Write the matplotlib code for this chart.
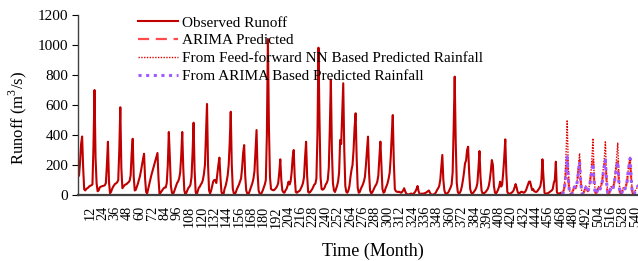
import numpy as np
import matplotlib
matplotlib.use("Agg")
import matplotlib.pyplot as plt

plt.rcParams['font.family'] = ['Liberation Serif', 'DejaVu Serif']
plt.rcParams['mathtext.fontset'] = 'custom'
plt.rcParams['mathtext.rm'] = 'Liberation Serif'

# Observed runoff (m3/s), months 1..468, one row per year
obs_years_01_10 = [
    [130, 220, 340, 390, 180, 38, 30, 40, 45, 50, 58, 62],
    [65, 70, 330, 700, 250, 80, 25, 30, 50, 55, 58, 60],
    [62, 65, 80, 200, 355, 90, 12, 20, 40, 55, 65, 75],
    [78, 85, 100, 300, 585, 180, 45, 55, 65, 70, 72, 80],
    [85, 95, 130, 280, 375, 120, 30, 35, 55, 75, 100, 125],
    [160, 200, 240, 275, 110, 20, 10, 40, 70, 100, 130, 155],
    [180, 205, 230, 255, 280, 110, 5, 15, 25, 35, 45, 50],
    [50, 80, 200, 420, 250, 60, 15, 5, 20, 40, 60, 80],
    [90, 110, 150, 260, 420, 180, 30, 5, 15, 32, 48, 55],
    [70, 120, 280, 482, 160, 20, 2, 25, 48, 55, 70, 80],
]
obs_years_11_20 = [
    [100, 140, 200, 400, 607, 200, 30, 10, 30, 60, 90, 100],
    [100, 80, 140, 200, 249, 120, 20, 5, 5, 40, 60, 90],
    [130, 200, 350, 555, 200, 40, 10, 5, 20, 40, 55, 70],
    [90, 110, 180, 280, 333, 130, 30, 10, 5, 20, 40, 60],
    [80, 110, 160, 300, 433, 150, 30, 10, 3, 15, 30, 50],
    [70, 100, 400, 1040, 450, 120, 40, 35, 32, 32, 40, 48],
    [60, 80, 150, 238, 100, 30, 18, 15, 30, 40, 60, 89],
    [70, 90, 150, 250, 300, 120, 20, 15, 20, 25, 30, 45],
    [60, 80, 120, 250, 355, 130, 20, 15, 20, 30, 40, 55],
    [70, 75, 110, 400, 982, 500, 120, 40, 35, 40, 50, 70],
]
obs_years_21_30 = [
    [80, 100, 180, 450, 770, 300, 80, 30, 20, 40, 60, 90],
    [150, 367, 340, 550, 745, 300, 60, 20, 15, 30, 60, 120],
    [167, 200, 300, 450, 545, 250, 50, 15, 20, 40, 55, 70],
    [90, 120, 200, 300, 389, 150, 30, 12, 15, 30, 45, 60],
    [70, 90, 130, 250, 356, 200, 40, 15, 20, 45, 60, 80],
    [110, 150, 250, 400, 533, 220, 40, 25, 22, 20, 22, 18],
    [15, 20, 30, 45, 25, 10, 5, 3, 5, 8, 10, 5],
    [8, 15, 25, 40, 60, 25, 8, 5, 10, 8, 10, 12],
    [15, 20, 25, 30, 15, 5, 2, 3, 5, 10, 20, 35],
    [45, 60, 100, 180, 267, 100, 30, 10, 8, 12, 20, 35],
]
obs_years_31_39 = [
    [50, 70, 150, 450, 789, 350, 80, 20, 10, 15, 30, 60],
    [100, 150, 211, 230, 300, 322, 150, 40, 15, 10, 15, 25],
    [35, 50, 80, 180, 293, 120, 30, 10, 8, 15, 20, 30],
    [40, 60, 100, 160, 233, 200, 60, 15, 10, 20, 35, 55],
    [89, 56, 70, 150, 250, 371, 150, 20, 10, 8, 10, 15],
    [20, 30, 50, 73, 50, 20, 10, 12, 20, 22, 18, 15],
    [20, 30, 50, 70, 89, 90, 60, 33, 40, 25, 22, 20],
    [25, 35, 45, 60, 100, 238, 120, 15, 8, 10, 12, 15],
    [20, 25, 30, 40, 80, 100, 222, 20, 8, 10, 12, 15],
]

# Predicted runoff, months 469..543
arima_pred = [10, 20, 40, 90, 170, 240, 110, 30, 10, 8, 20, 40,
              50, 45, 60, 100, 170, 230, 100, 25, 8, 15, 35, 50,
              40, 25, 50, 80, 140, 190, 230, 100, 20, 8, 25, 45,
              55, 40, 60, 95, 160, 200, 230, 100, 20, 8, 15, 40,
              50, 35, 60, 95, 150, 200, 225, 95, 18, 8, 15, 40,
              50, 40, 60, 90, 150, 200, 235, 105, 20, 8, 10, 30,
              45, 55, 65]
ffnn_rain_pred = [10, 20, 40, 120, 300, 500, 200, 40, 10, 5, 15, 30,
                  50, 40, 60, 120, 200, 278, 120, 30, 10, 20, 40, 60,
                  40, 25, 50, 80, 150, 250, 378, 150, 30, 10, 30, 50,
                  60, 45, 70, 100, 180, 250, 360, 150, 30, 10, 20, 50,
                  60, 40, 70, 110, 180, 260, 349, 140, 25, 8, 20, 45,
                  55, 40, 65, 100, 160, 200, 251, 120, 25, 5, 10, 30,
                  40, 55, 70]
arima_rain_pred = [5, 15, 30, 80, 160, 255, 120, 30, 5, 3, 15, 35,
                   55, 45, 60, 100, 160, 222, 100, 20, 5, 15, 35, 50,
                   35, 20, 45, 70, 120, 160, 211, 90, 20, 5, 25, 45,
                   55, 40, 60, 90, 150, 190, 233, 100, 20, 5, 15, 40,
                   50, 35, 60, 95, 150, 190, 222, 90, 15, 5, 15, 40,
                   50, 40, 60, 90, 150, 200, 244, 110, 20, 5, 10, 30,
                   45, 55, 65]

observed = [v for rows in (obs_years_01_10, obs_years_11_20, obs_years_21_30, obs_years_31_39)
            for row in rows for v in row]
obs_months = np.arange(1, len(observed) + 1)
pred_months = np.arange(len(observed) + 1, len(observed) + 1 + len(arima_pred))

xticks = list(range(12, 541, 12))
yticks = [0, 200, 400, 600, 800, 1000, 1200]

fig = plt.figure(figsize=(6.38, 2.61), dpi=100)
ax = fig.add_axes([78/638, 66/261, 1 - 78/638, 180/261])

ax.plot(obs_months, observed, color='#C00000', lw=1.5, label='Observed Runoff')
ax.plot(pred_months, arima_pred, color='#FF4B4B', lw=1.6, ls=(0, (5, 3)), label='ARIMA Predicted')
ax.plot(pred_months, ffnn_rain_pred, color='#E00000', lw=1.0, ls=(0, (1, 1)),
        label='From Feed-forward NN Based Predicted Rainfall')
ax.plot(pred_months, arima_rain_pred, color='#A259FF', lw=2.2, ls=(0, (1, 1.5)),
        label='From ARIMA Based Predicted Rainfall')

ax.set_xlim(0, 542.6)
ax.set_ylim(0, 1200)
ax.set_yticks(yticks)
ax.set_xticks(xticks)
ax.set_xticklabels([str(t) for t in xticks], rotation=90, fontsize=10.3)
ax.tick_params(axis='y', labelsize=11, direction='out', length=4, pad=3)
ax.tick_params(axis='x', length=0, pad=8)

for s in ('top', 'right'):
    ax.spines[s].set_visible(False)
ax.spines['bottom'].set_color('#404040')
ax.spines['bottom'].set_linewidth(1.6)
ax.spines['left'].set_color('#404040')
ax.spines['left'].set_linewidth(1.0)

ax.set_ylabel('Runoff (m$^3$/s)', fontsize=12)
ax.yaxis.set_label_coords(-0.088, 0.43)
ax.set_xlabel('Time (Month)', fontsize=13)
ax.xaxis.set_label_coords(0.526, -0.265)

leg = ax.legend(loc='upper left', bbox_to_anchor=(0.107, 0.995), frameon=False, fontsize=11,
                handlelength=2.6, handletextpad=0.3, labelspacing=0.27, borderaxespad=0,
                borderpad=0)

fig.savefig('out.png', dpi=100)
